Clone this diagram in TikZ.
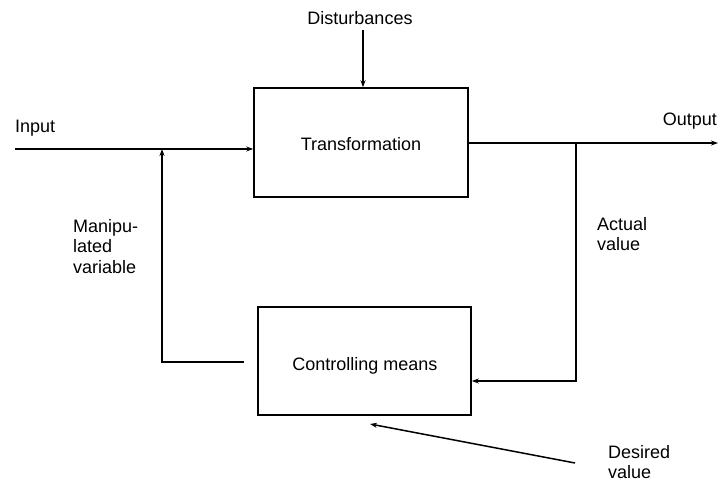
\documentclass[tikz,border=0pt]{standalone}
\usepackage{fontspec}
\setmainfont{Liberation Sans}
\usetikzlibrary{arrows.meta}
\begin{document}
\begin{tikzpicture}[x=1pt,y=-1pt,
  lbl/.style={font=\fontsize{18}{20.5}\selectfont, inner sep=0pt, align=left},
  blk/.style={draw, line width=1.6pt, inner sep=0pt},
  ln/.style={line width=1.5pt},
  arr/.style={line width=1.5pt, -{Stealth[length=7pt,width=5pt]}}]
\useasboundingbox (0,0) rectangle (720,484);
% boxes
\node[blk, minimum width=214pt, minimum height=109pt] (tr) at (361,142.5) {};
\node[lbl, anchor=base] (trl) at (361,150) {Transformation};
\node[blk, minimum width=213pt, minimum height=108pt] (cm) at (364.5,361) {};
\node[lbl, anchor=base] (cml) at (365,370) {Controlling means};
% labels
\node[lbl, anchor=base west] (inp) at (15,132) {Input};
\node[lbl, anchor=base east] (outp) at (717,125) {Output};
\node[lbl, anchor=base] (dist) at (360,25) {Disturbances};
\node[lbl, anchor=north west] (act) at (597,217) {Actual\\value};
\node[lbl, anchor=north west] (man) at (73,219) {Manipu-\\lated\\variable};
\node[lbl, anchor=north west] (des) at (608,445) {Desired\\value};
% coordinates
\coordinate (inS) at (15,149);
\coordinate (j1) at (162,149);
\coordinate (mb) at (162,362);
\coordinate (me) at (244,362);
\coordinate (dS) at (363,30);
\coordinate (oE) at (718,143);
\coordinate (j2) at (576,143);
\coordinate (ab) at (576,381);
\coordinate (dvS) at (575,463);
\coordinate (dvE) at (370,424);
% connectors
\draw[arr] (inS) -- (tr.west |- inS);
\draw[arr] (me) -- (mb) -- (j1);
\draw[arr] (dS) -- (tr.north -| dS);
\draw[arr] (tr.east |- oE) -- (oE);
\draw[arr] (j2) -- (ab) -- (cm.east |- ab);
\draw[arr] (dvS) -- (dvE);
\end{tikzpicture}
\end{document}
